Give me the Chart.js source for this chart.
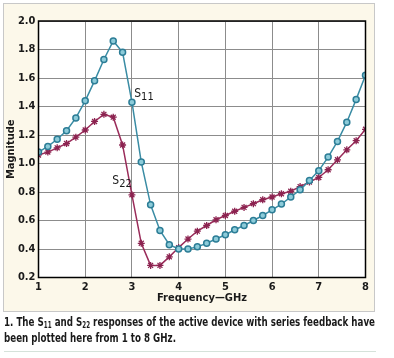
<!DOCTYPE html>
<html>
<head>
<meta charset="utf-8">
<script src="https://cdn.jsdelivr.net/npm/chart.js@4.4.1/dist/chart.umd.min.js"></script>
<style>
  html, body { margin: 0; padding: 0; background: #ffffff; }
  #wrap { position: relative; width: 394px; height: 358px; overflow: hidden; }
  #box { position: absolute; left: 3px; top: 3px; width: 370px; height: 307px; background: #fcf8ea; border: 1px solid #c8c8c8; }
  #cv { position: absolute; left: 0; top: 0; }
  #cap { position: absolute; left: 4px; top: 314px; font-family: "Liberation Sans Narrow", "DejaVu Sans Condensed", sans-serif; font-weight: bold; font-size: 12.5px; line-height: 16px; color: #1a1a1a; white-space: nowrap; transform-origin: 0 0; }
  #cap span { display: block; width: max-content; }
  #cap sub { font-size: 8px; vertical-align: -2px; line-height: 0; }
  #rule { position: absolute; left: 4px; top: 351px; width: 372px; height: 1px; background: #d6e2da; }
</style>
</head>
<body>
<div id="wrap">
  <div id="box"></div>
  <canvas id="cv" width="394" height="358"></canvas>
  <div id="cap"><span id="l1">1. The S<sub>11</sub> and S<sub>22</sub> responses of the active device with series feedback have</span><span>been plotted here from 1 to 8 GHz.</span></div>
  <div id="rule"></div>
</div>
<script>
// ---- data ----
const frequencies = [1.0,1.2,1.4,1.6,1.8,2.0,2.2,2.4,2.6,2.8,3.0,3.2,3.4,3.6,3.8,4.0,4.2,4.4,4.6,4.8,5.0,5.2,5.4,5.6,5.8,6.0,6.2,6.4,6.6,6.8,7.0,7.2,7.4,7.6,7.8,8.0];
const s11 = [1.08,1.12,1.17,1.23,1.32,1.44,1.58,1.73,1.86,1.78,1.43,1.01,0.71,0.53,0.43,0.40,0.40,0.415,0.44,0.47,0.50,0.535,0.565,0.60,0.635,0.675,0.715,0.765,0.815,0.88,0.95,1.045,1.155,1.29,1.45,1.62];
const s22 = [1.06,1.08,1.11,1.14,1.185,1.235,1.295,1.345,1.325,1.13,0.78,0.44,0.285,0.285,0.345,0.41,0.47,0.525,0.565,0.605,0.635,0.665,0.692,0.718,0.746,0.765,0.788,0.805,0.838,0.87,0.902,0.956,1.026,1.096,1.16,1.24];
const xTicks = [1,2,3,4,5,6,7,8];
const yTicks = [0.2,0.4,0.6,0.8,1.0,1.2,1.4,1.6,1.8,2.0];
const seriesLabels = [
  { main: "S", sub: "11", at: [3.05, 1.466] },
  { main: "S", sub: "22", at: [2.58, 0.858] }
];
const xTitle = "Frequency\u2014GHz";
const yTitle = "Magnitude";

// fit caption first line to the reference width
(function () {
  const cap = document.getElementById('cap');
  const w = document.getElementById('l1').getBoundingClientRect().width;
  if (w > 0) cap.style.transform = 'scaleX(' + (371 / w) + ')';
})();

const toPts = (vals) => frequencies.map((f, i) => ({ x: f, y: vals[i] }));

const tickFont = { family: "'DejaVu Sans Condensed', 'Liberation Sans Narrow', sans-serif", size: 11, weight: 'bold' };

const framePlugin = {
  id: 'frame',
  beforeDraw(chart) {
    const a = chart.chartArea, c = chart.ctx;
    c.save(); c.fillStyle = '#ffffff';
    c.fillRect(a.left, a.top, a.right - a.left, a.bottom - a.top);
    c.restore();
  },
  afterDatasetsDraw(chart) {
    const a = chart.chartArea, c = chart.ctx;
    c.save();
    c.strokeStyle = '#000'; c.lineWidth = 1.5;
    c.strokeRect(a.left, a.top, a.right - a.left, a.bottom - a.top);
    c.fillStyle = '#1a1a1a';
    c.textBaseline = 'alphabetic';
    seriesLabels.forEach(l => {
      const px = chart.scales.x.getPixelForValue(l.at[0]);
      const py = chart.scales.y.getPixelForValue(l.at[1]);
      c.font = "12px 'DejaVu Sans Condensed', sans-serif";
      c.fillText(l.main, px, py);
      const w = c.measureText(l.main).width;
      c.font = "11px 'DejaVu Sans Condensed', sans-serif";
      c.fillText(l.sub, px + w, py + 3);
    });
    c.restore();
  }
};

new Chart(document.getElementById('cv'), {
  type: 'line',
  data: {
    datasets: [
      {
        label: 'S11', data: toPts(s11),
        borderColor: '#3a8ca4', borderWidth: 1.5,
        pointStyle: 'circle', pointRadius: 3, pointBorderWidth: 1.5,
        pointBorderColor: '#2c7d96', pointBackgroundColor: '#8ccbd9',
        tension: 0
      },
      {
        label: 'S22', data: toPts(s22),
        borderColor: '#9a2c5a', borderWidth: 1.5,
        pointStyle: 'star', pointRadius: 3.5, pointBorderWidth: 1.3,
        pointBorderColor: '#8c2350', pointBackgroundColor: '#8c2350',
        tension: 0
      }
    ]
  },
  options: {
    responsive: false, animation: false,
    layout: { padding: { left: 0, top: 21, right: 28.5, bottom: 50.5 } },
    plugins: { legend: { display: false }, tooltip: { enabled: false } },
    scales: {
      x: {
        type: 'linear', min: 1, max: 8,
        afterFit: (s) => { s.height = 30; },
        afterBuildTicks: (s) => { s.ticks = xTicks.map(v => ({ value: v })); },
        grid: { color: '#8c8c8c', lineWidth: 1, drawTicks: false },
        border: { display: false },
        ticks: { font: tickFont, color: '#1a1a1a', padding: 3, maxRotation: 0 },
        title: { display: true, text: xTitle, font: tickFont, color: '#1a1a1a', padding: { top: 0, bottom: 3 } }
      },
      y: {
        type: 'linear', min: 0.2, max: 2.0,
        afterFit: (s) => { s.width = 38.5; },
        afterBuildTicks: (s) => { s.ticks = yTicks.map(v => ({ value: v })); },
        grid: { color: '#8c8c8c', lineWidth: 1, drawTicks: false },
        border: { display: false },
        ticks: { font: tickFont, color: '#1a1a1a', padding: 3, callback: (v) => Number(v).toFixed(1) },
        title: { display: true, text: yTitle, font: tickFont, color: '#1a1a1a', padding: { top: 5, bottom: 0 } }
      }
    }
  },
  plugins: [framePlugin]
});
</script>
</body>
</html>
